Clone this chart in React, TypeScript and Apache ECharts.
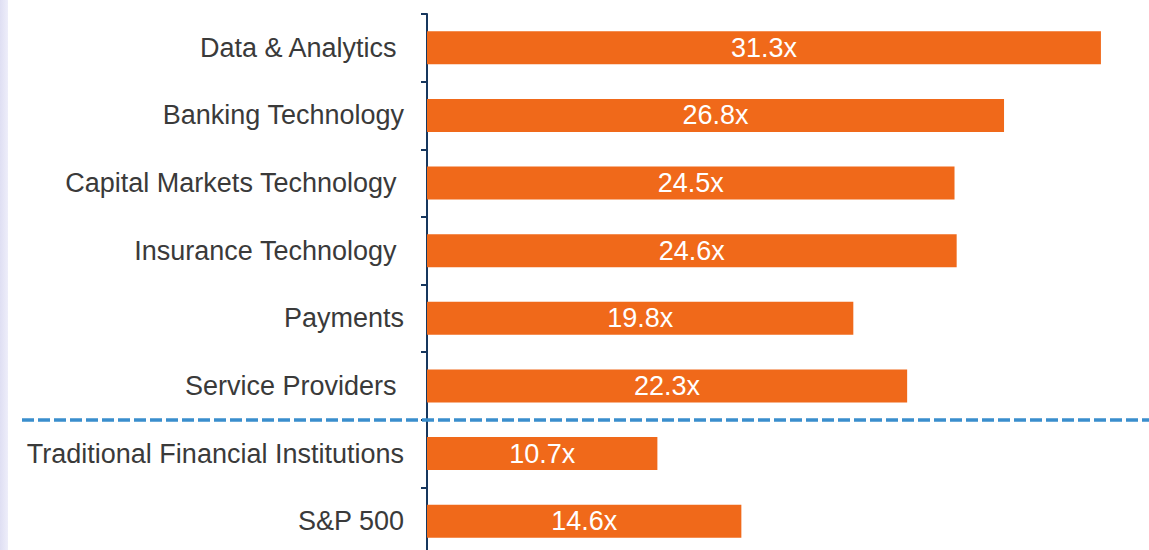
import React, { useEffect, useRef } from "react";
import * as echarts from "echarts";

const categories = [
  "Data & Analytics ",
  "Banking Technology",
  "Capital Markets Technology ",
  "Insurance Technology ",
  "Payments",
  "Service Providers ",
  "Traditional Financial Institutions",
  "S&P 500",
];
const multiples = [31.3, 26.8, 24.5, 24.6, 19.8, 22.3, 10.7, 14.6];
const separatorAfterIndex = 5;

export default function App() {
  const ref = useRef<HTMLDivElement>(null);
  useEffect(() => {
    document.body.style.margin = "0";
    document.body.style.overflow = "hidden";
    const chart = echarts.init(ref.current!, null, { renderer: "svg" });
    chart.setOption({
      animation: false,
      backgroundColor: "#ffffff",
      grid: { left: 427, top: 14, width: 689, height: 541 },
      xAxis: { type: "value", min: 0, max: 32, show: false },
      yAxis: {
        type: "category",
        inverse: true,
        data: categories,
        axisLine: { show: true, lineStyle: { color: "#17375e", width: 2 } },
        axisTick: { show: true, length: 6, lineStyle: { color: "#17375e", width: 2 } },
        axisLabel: {
          margin: 23,
          fontSize: 27,
          fontFamily: "Liberation Sans, Arial, sans-serif",
          color: "#3a3a3a",
        },
        splitLine: { show: false },
      },
      series: [
        {
          type: "bar",
          data: multiples,
          barWidth: 33,
          itemStyle: { color: "#f0691a" },
          label: {
            show: true,
            position: "inside",
            formatter: (p: any) => p.value.toFixed(1) + "x",
            color: "#ffffff",
            fontSize: 27,
            fontFamily: "Liberation Sans, Arial, sans-serif",
          },
        },
      ],
    });
    const y1 = chart.convertToPixel({ yAxisIndex: 0 }, categories[separatorAfterIndex]) as number;
    const y2 = chart.convertToPixel({ yAxisIndex: 0 }, categories[separatorAfterIndex + 1]) as number;
    const ySep = Math.round((y1 + y2) / 2);
    chart.setOption({
      graphic: [
        {
          type: "rect",
          shape: { x: 0, y: 0, width: 8, height: 560 },
          style: {
            fill: new echarts.graphic.LinearGradient(0, 0, 1, 0, [
              { offset: 0, color: "#dfdff3" },
              { offset: 1, color: "#eeeefa" },
            ]),
          },
          silent: true,
        },
        {
          type: "line",
          shape: { x1: 22, y1: ySep, x2: 1149, y2: ySep },
          style: { stroke: "#3a8ecd", lineWidth: 3.5, lineDash: [12, 4] },
          silent: true,
          z: 10,
        },
      ],
    });
    return () => chart.dispose();
  }, []);
  return <div ref={ref} style={{ width: 1149, height: 560 }} />;
}
